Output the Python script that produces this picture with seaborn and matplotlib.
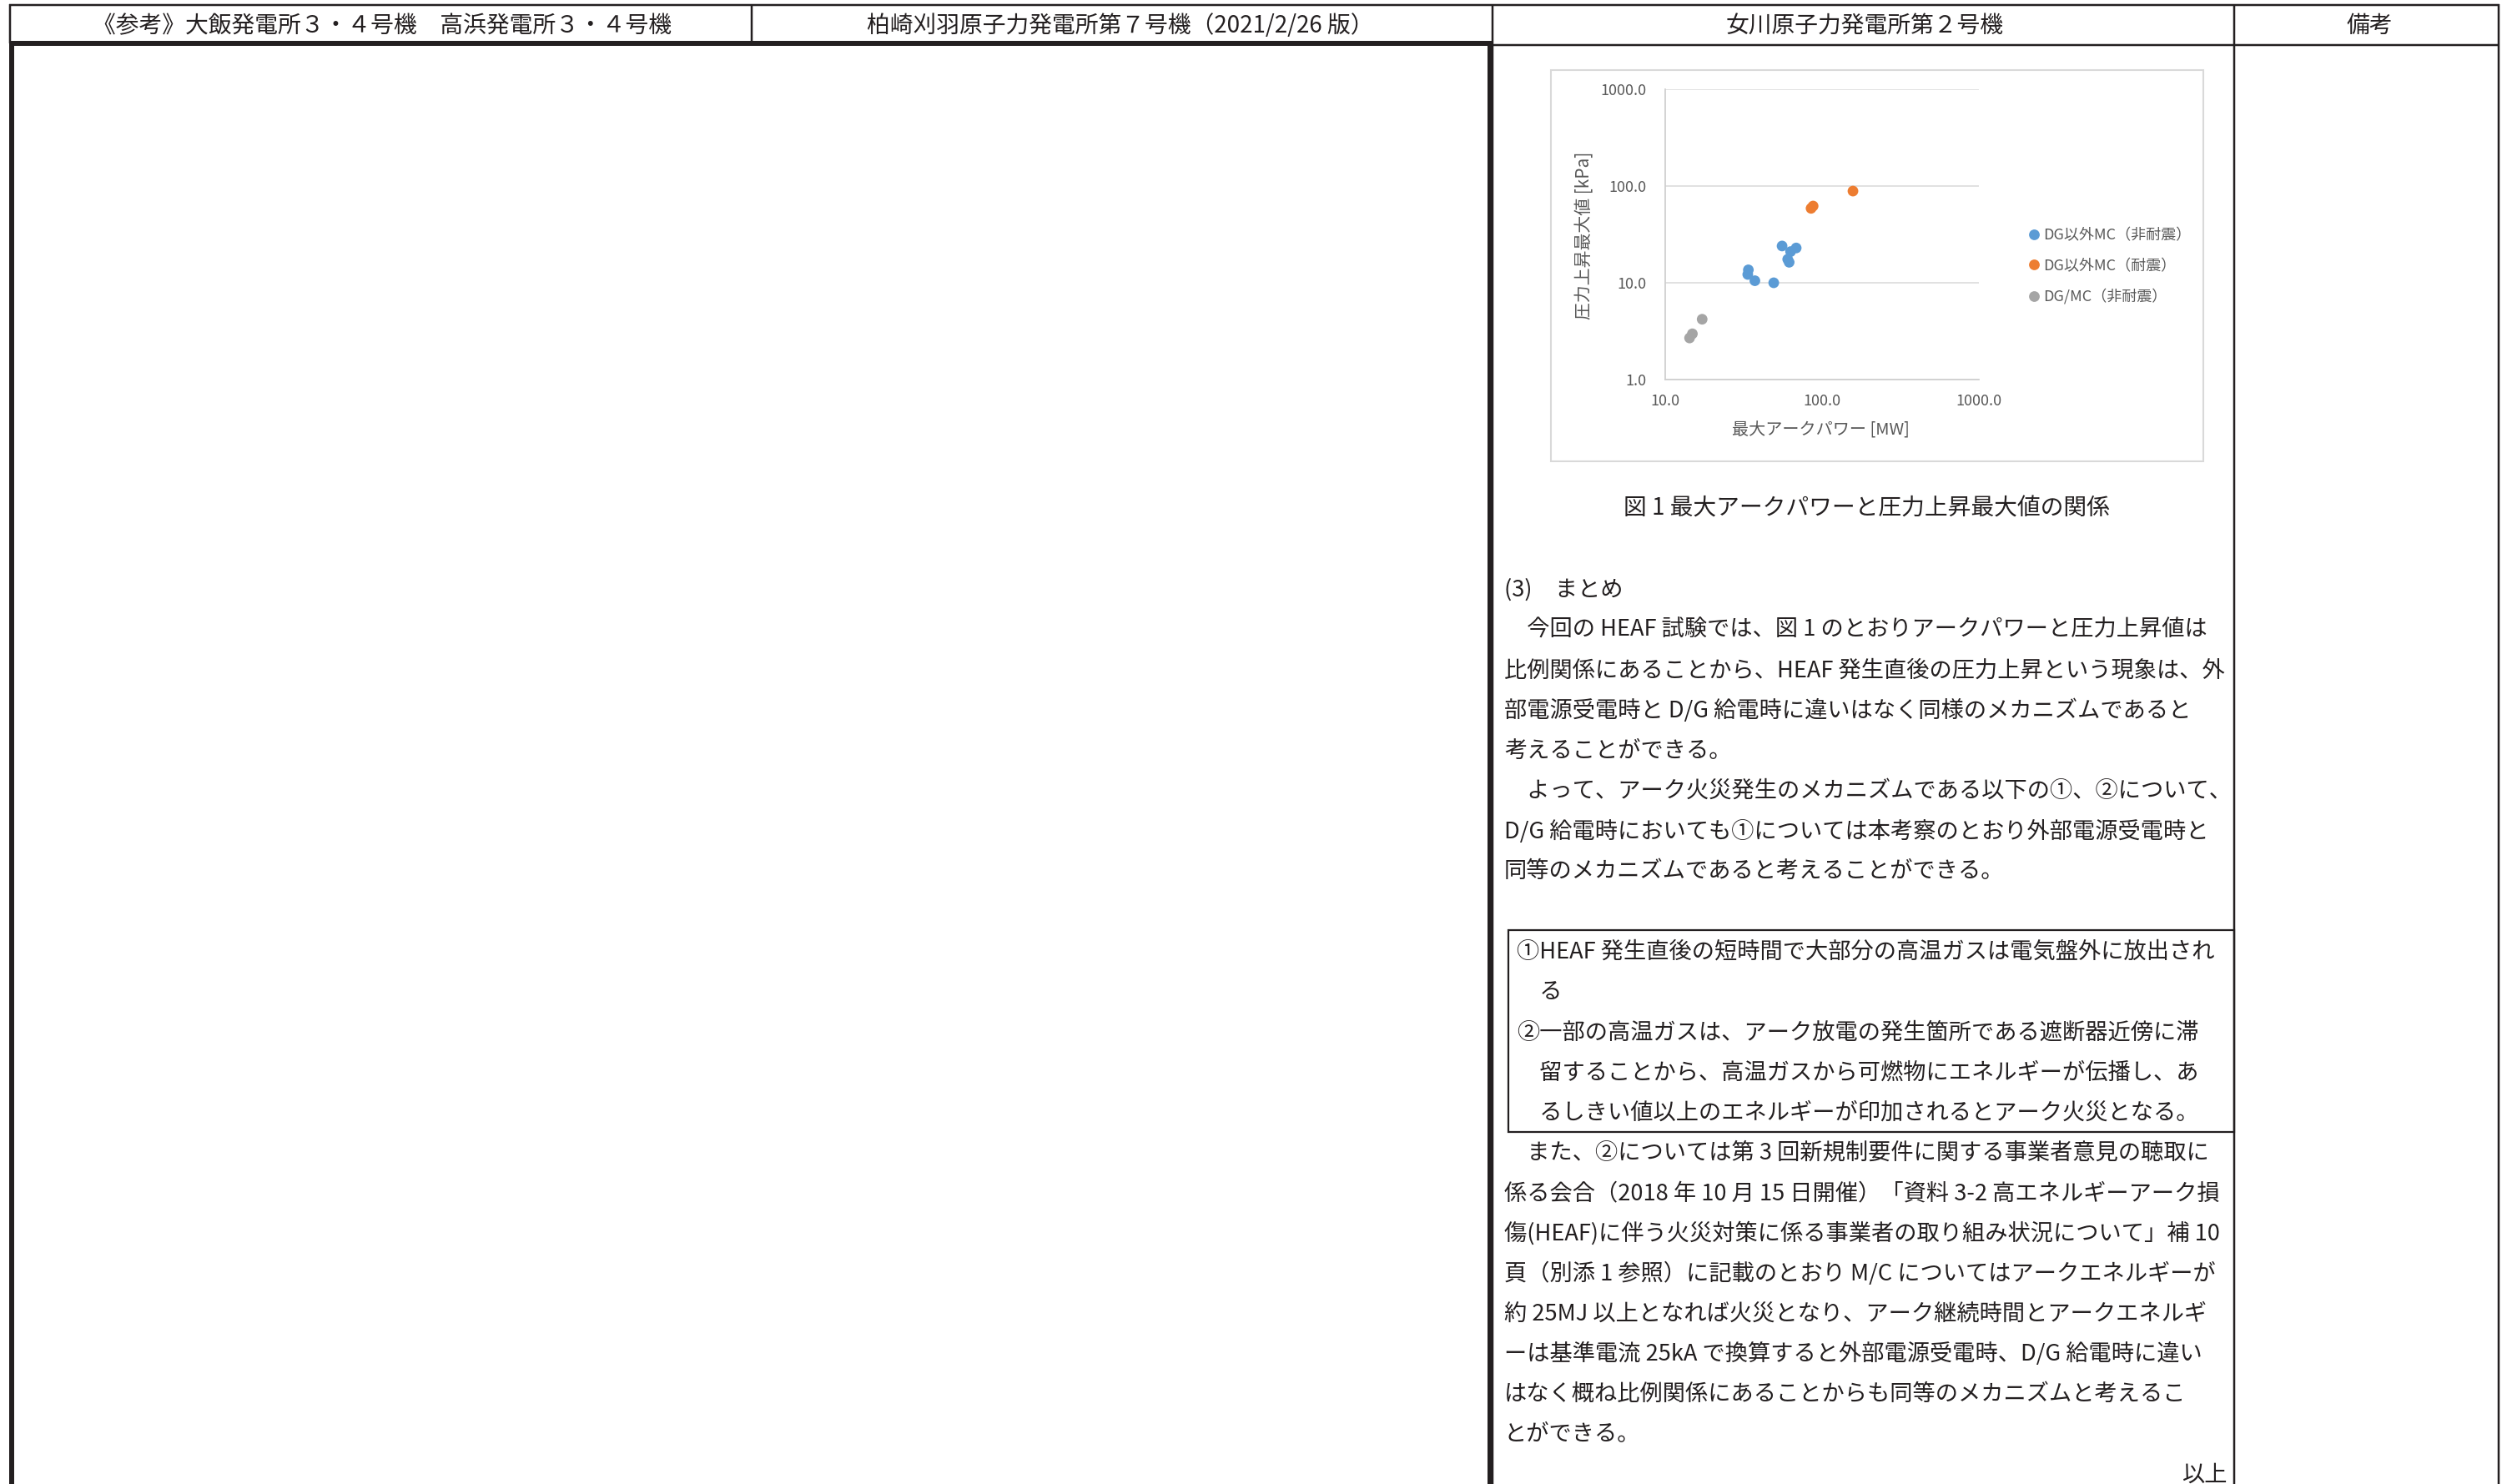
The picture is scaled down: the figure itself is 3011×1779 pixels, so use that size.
import pandas as pd
import seaborn as sns
import matplotlib.pyplot as plt
from matplotlib.patches import Rectangle
from matplotlib.ticker import FixedLocator, FuncFormatter, NullLocator

# values
blue_power = [55.6, 68.4, 63.0, 60.4, 61.7, 33.9, 33.6, 37.3, 49.2]
blue_pressure = [24.0, 22.9, 21.0, 17.5, 16.3, 13.6, 12.2, 10.5, 10.0]
orange_power = [85.1, 87.7, 157.4]
orange_pressure = [58.8, 62.1, 88.7]
gray_power = [17.2, 14.9, 14.3]
gray_pressure = [4.2, 2.97, 2.69]
series_names = ['DG以外MC（非耐震）', 'DG以外MC（耐震）', 'DG/MC（非耐震）']
series_colors = ['#5b9bd5', '#ed7d31', '#a5a5a5']
x_ticks = [10, 100, 1000]
y_ticks = [1, 10, 100, 1000]

header_labels = ['《参考》大飯発電所３・４号機　高浜発電所３・４号機',
                 '柏崎刈羽原子力発電所第７号機（2021/2/26 版）',
                 '女川原子力発電所第２号機',
                 '備考']
caption = '図 1 最大アークパワーと圧力上昇最大値の関係'
section_title = '(3)　まとめ'
para_lines = ['　今回の HEAF 試験では、図 1 のとおりアークパワーと圧力上昇値は',
              '比例関係にあることから、HEAF 発生直後の圧力上昇という現象は、外',
              '部電源受電時と D/G 給電時に違いはなく同様のメカニズムであると',
              '考えることができる。',
              '　よって、アーク火災発生のメカニズムである以下の①、②について、',
              'D/G 給電時においても①については本考察のとおり外部電源受電時と',
              '同等のメカニズムであると考えることができる。']
box_lines = ['①HEAF 発生直後の短時間で大部分の高温ガスは電気盤外に放出され',
             '　る',
             '②一部の高温ガスは、アーク放電の発生箇所である遮断器近傍に滞',
             '　留することから、高温ガスから可燃物にエネルギーが伝播し、あ',
             '　るしきい値以上のエネルギーが印加されるとアーク火災となる。']
after_lines = ['　また、②については第 3 回新規制要件に関する事業者意見の聴取に',
               '係る会合（2018 年 10 月 15 日開催）「資料 3-2 高エネルギーアーク損',
               '傷(HEAF)に伴う火災対策に係る事業者の取り組み状況について」補 10',
               '頁（別添 1 参照）に記載のとおり M/C についてはアークエネルギーが',
               '約 25MJ 以上となれば火災となり、アーク継続時間とアークエネルギ',
               'ーは基準電流 25kA で換算すると外部電源受電時、D/G 給電時に違い',
               'はなく概ね比例関係にあることからも同等のメカニズムと考えるこ',
               'とができる。']
closing = '以上'

sns.set_style('white')
plt.rcParams['font.family'] = ['Noto Sans CJK JP', 'DejaVu Sans']

W, H = 3011, 1779
fig = plt.figure(figsize=(W / 100, H / 100), dpi=100)

# page layer in pixel coordinates
page = fig.add_axes([0, 0, 1, 1])
page.set_xlim(0, W)
page.set_ylim(H, 0)
page.axis('off')
ink = '#231f20'

def hline(y, x0, x1, px):
    page.plot([x0, x1], [y, y], color=ink, lw=px * 0.72, solid_capstyle='butt')

def vline(x, y0, y1, px):
    page.plot([x, x], [y0, y1], color=ink, lw=px * 0.72, solid_capstyle='butt')

hline(6, 11, 2996, 2.5)
vline(12, 5, 52, 2.5)
vline(901, 5, 52, 2.5)
vline(1789, 5, H, 2.5)
vline(2678, 5, H, 2.5)
vline(2995, 5, H, 2.5)
hline(54, 1789, 2996, 2.5)
hline(52, 11, 1790, 6)
vline(14, 49, H, 6)
vline(1786, 49, H, 7)

col_centers = [458, 1343, 2235, 2840]
for label, cx in zip(header_labels, col_centers):
    page.text(cx, 31, label, ha='center', va='center', fontsize=20, color=ink)

# chart frame
page.add_patch(Rectangle((1859, 84), 782, 469, fill=False,
                         edgecolor='#d9d9d9', lw=1.5))

# body text
body_size = 19.6
txt = dict(fontsize=body_size, color=ink, va='center', ha='left')
pitch = 48.2
y0 = 707.5
x0 = 1803
page.text(2237, 610, caption, ha='center', va='center', fontsize=20, color=ink)
page.text(x0, y0, section_title, **txt)
for i, line in enumerate(para_lines):
    page.text(x0, y0 + pitch * (i + 1), line, **txt)
for i, line in enumerate(box_lines):
    page.text(x0 + 15, y0 + pitch * (i + 9), line, **txt)
for i, line in enumerate(after_lines):
    page.text(x0, y0 + pitch * (i + 14), line, **txt)
page.text(2670, y0 + pitch * 22, closing, fontsize=body_size, color=ink,
          va='center', ha='right')
page.add_patch(Rectangle((1808, 1115), 2678 - 1808, 1357 - 1115, fill=False,
                         edgecolor=ink, lw=1.6))

# scatter chart
df = pd.DataFrame({
    'power': blue_power + orange_power + gray_power,
    'pressure': blue_pressure + orange_pressure + gray_pressure,
    'series': [series_names[0]] * len(blue_power)
              + [series_names[1]] * len(orange_power)
              + [series_names[2]] * len(gray_power),
})

left, right, top, bottom = 1996, 2372, 107, 455
ax = fig.add_axes([left / W, 1 - bottom / H, (right - left) / W, (bottom - top) / H])
sns.scatterplot(data=df, x='power', y='pressure', hue='series',
                palette=dict(zip(series_names, series_colors)),
                hue_order=series_names, s=85, linewidth=0, ax=ax)
ax.set_xscale('log')
ax.set_yscale('log')
ax.set_xlim(10, 1000)
ax.set_ylim(1, 1000)
fmt = FuncFormatter(lambda v, p: f'{v:.1f}')
ax.xaxis.set_major_locator(FixedLocator(x_ticks))
ax.yaxis.set_major_locator(FixedLocator(y_ticks))
ax.xaxis.set_major_formatter(fmt)
ax.yaxis.set_major_formatter(fmt)
ax.xaxis.set_minor_locator(NullLocator())
ax.yaxis.set_minor_locator(NullLocator())
ax.tick_params(axis='both', length=0, labelsize=13, labelcolor='#595959')
ax.tick_params(axis='x', pad=12)
ax.tick_params(axis='y', pad=16)
ax.grid(axis='y', color='#d9d9d9', lw=1.1)
ax.grid(axis='x', visible=False)
for side in ['top', 'right']:
    ax.spines[side].set_visible(False)
for side in ['left', 'bottom']:
    ax.spines[side].set_color('#d0d0d0')
    ax.spines[side].set_linewidth(1.3)
ax.set_xlabel('最大アークパワー [MW]', fontsize=14.5, color='#595959')
ax.set_ylabel('圧力上昇最大値 [kPa]', fontsize=15, color='#595959')
ax.xaxis.set_label_coords(0.497, -0.144)
ax.yaxis.set_label_coords(-0.228, 0.497)
ax.xaxis.label.set_va('top')
ax.yaxis.label.set_va('bottom')

sns.move_legend(ax, 'center left', bbox_to_anchor=(1.155, 0.39), frameon=False,
                title=None, fontsize=13, handlelength=0.8, handletextpad=0.25,
                borderpad=0, borderaxespad=0, labelspacing=1.0, markerscale=1.0)
for t in ax.get_legend().get_texts():
    t.set_color('#595959')

fig.savefig('out.png', dpi=100)
